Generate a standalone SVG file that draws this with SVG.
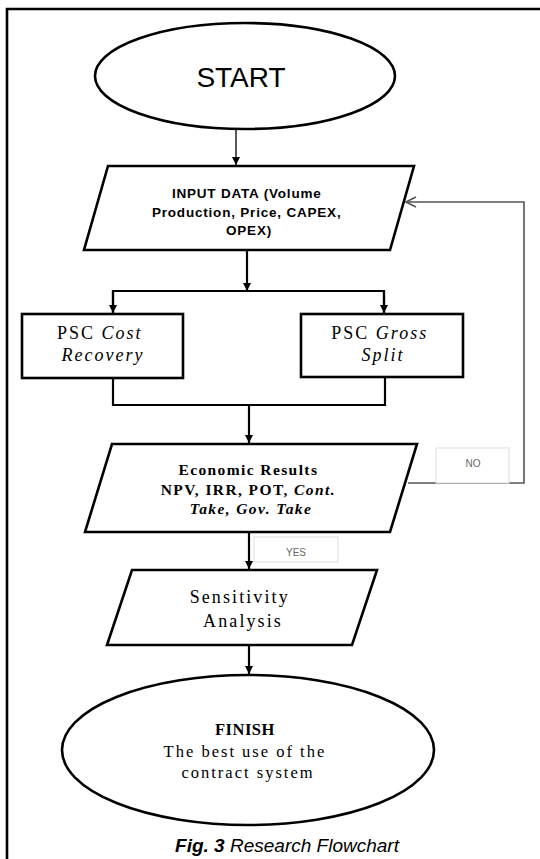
<svg xmlns="http://www.w3.org/2000/svg" width="540" height="859" viewBox="0 0 540 859">
<style>
.shape{fill:#fff;stroke:#000;stroke-width:2.6}
.conn{fill:none;stroke:#000;stroke-width:2.2}
.thin{fill:none;stroke:#000;stroke-width:1.3}
.fb{fill:none;stroke:#555;stroke-width:1.6}
.lbl{fill:#fff;stroke:#ddd;stroke-width:1}
.serif{font-family:"Liberation Serif","Times New Roman",serif;fill:#000}
.sans{font-family:"Liberation Sans",Arial,sans-serif;fill:#000}
.gray{font-family:"Liberation Sans",Arial,sans-serif;fill:#666;font-size:10px}
</style>
<defs>
<marker id="ah" viewBox="0 0 10 10" refX="10" refY="5" markerWidth="8" markerHeight="8" markerUnits="userSpaceOnUse" orient="auto"><path d="M0,0 L10,5 L0,10 z" fill="#000"/></marker>
<marker id="oh" viewBox="0 0 12 12" refX="11" refY="6" markerWidth="12" markerHeight="12" markerUnits="userSpaceOnUse" orient="auto"><path d="M1,1 L11,6 L1,11" fill="none" stroke="#555" stroke-width="1.6"/></marker>
</defs>
<rect width="540" height="859" fill="#fff"/>
<path d="M7,859 V9 H540" fill="none" stroke="#000" stroke-width="2.6"/>

<g id="connectors">
<path class="thin" d="M236,129 V165" marker-end="url(#ah)"/>
<path class="conn" d="M247,251 V291" marker-end="url(#ah)"/>
<path class="conn" d="M113,313 V291 H384 V313"/>
<path class="conn" d="M113,291 V313" marker-end="url(#ah)"/>
<path class="conn" d="M384,291 V313" marker-end="url(#ah)"/>
<path class="conn" d="M113,378 V405 H385 V377"/>
<path class="conn" d="M249,405 V443" marker-end="url(#ah)"/>
<path class="conn" d="M249,533 V569" marker-end="url(#ah)"/>
<path class="conn" d="M249,646 V674" marker-end="url(#ah)"/>
<path class="fb" d="M408,483 H524 V202 H406" marker-end="url(#oh)"/>
</g>

<g id="start">
<ellipse class="shape" cx="245" cy="76" rx="150" ry="53" stroke-width="2"/>
<text class="sans" x="241" y="87" font-size="28" text-anchor="middle">START</text>
</g>

<g id="input">
<polygon class="shape" points="108,166 414,166 390,250 84,250"/>
<text class="sans" font-size="13.5" font-weight="bold" letter-spacing="0.8" text-anchor="middle">
<tspan x="249" y="198">INPUT DATA (Volume</tspan>
<tspan x="249" y="217">Production, Price, CAPEX,</tspan>
<tspan x="249" y="235">OPEX)</tspan>
</text>
</g>

<g id="cost-recovery">
<rect class="shape" x="22" y="314" width="161" height="64"/>
<text class="serif" font-size="18" letter-spacing="2" text-anchor="middle">
<tspan x="103" y="339">PSC <tspan font-style="italic">Cost</tspan></tspan>
<tspan x="103" y="361" font-style="italic">Recovery</tspan>
</text>
</g>

<g id="gross-split">
<rect class="shape" x="301" y="314" width="162" height="63"/>
<text class="serif" font-size="18" letter-spacing="2" text-anchor="middle">
<tspan x="383" y="339">PSC <tspan font-style="italic">Gross</tspan></tspan>
<tspan x="383" y="361" font-style="italic">Split</tspan>
</text>
</g>

<g id="economic">
<polygon class="shape" points="112,444 417,444 390,532 85,532"/>
<text class="serif" font-size="15.5" font-weight="bold" letter-spacing="1.4" text-anchor="middle">
<tspan x="251" y="475">Economic Results</tspan>
<tspan x="251" y="495">NPV, IRR, POT, <tspan font-style="italic">Cont.</tspan></tspan>
<tspan x="251" y="514" font-style="italic">Take, Gov. Take</tspan>
</text>
</g>

<g id="no-label">
<rect class="lbl" x="436" y="448" width="73" height="35"/>
<text class="gray" x="473" y="467" text-anchor="middle">NO</text>
</g>

<g id="yes-label">
<rect class="lbl" x="254" y="537" width="84" height="25"/>
<text class="gray" x="296" y="556" text-anchor="middle">YES</text>
</g>

<g id="sensitivity">
<polygon class="shape" points="132,570 377,570 352,645 107,645"/>
<text class="serif" font-size="18" letter-spacing="2.1" text-anchor="middle">
<tspan x="243" y="603">Sensitivity</tspan>
<tspan x="243" y="627">Analysis</tspan>
</text>
</g>

<g id="finish">
<ellipse class="shape" cx="248" cy="750" rx="186" ry="75" stroke-width="2"/>
<text class="serif" font-size="16.5" text-anchor="middle" letter-spacing="2">
<tspan x="248" y="735" font-weight="bold" letter-spacing="0.5">FINISH</tspan>
<tspan x="248" y="757">The best use of the</tspan>
<tspan x="248" y="778">contract system</tspan>
</text>
</g>

<g id="caption">
<text class="sans" x="287" y="852" font-size="19" font-style="italic" text-anchor="middle"><tspan font-weight="bold">Fig. 3</tspan> Research Flowchart</text>
</g>
</svg>
